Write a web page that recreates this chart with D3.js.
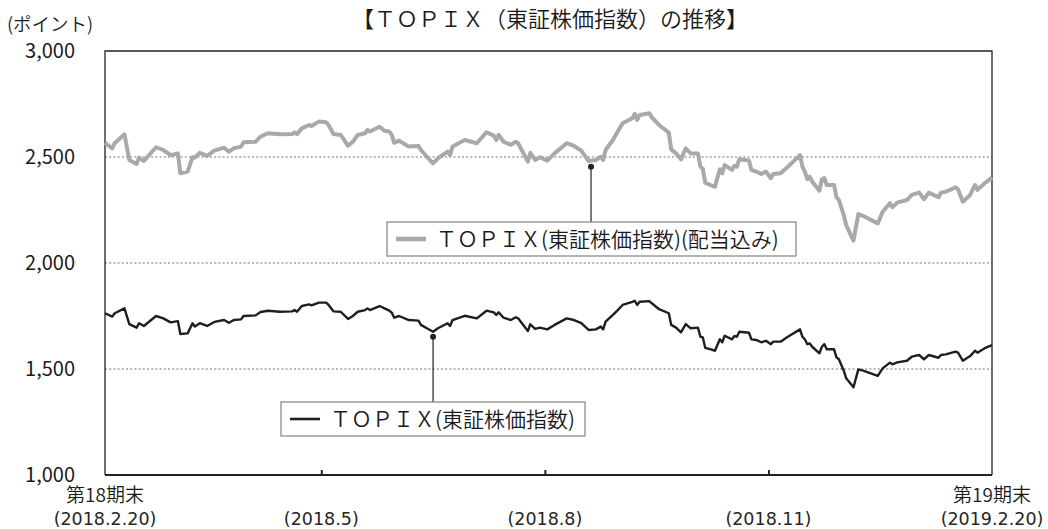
<!DOCTYPE html>
<html>
<head>
<meta charset="utf-8">
<script src="https://cdn.jsdelivr.net/npm/d3@7"></script>
<style>
  body { margin: 0; background: #fff; }
  text { font-family: "Noto Sans CJK JP", "Noto Sans", sans-serif; font-weight: 350; fill: #1a1a1a; }
  text.date { font-family: "DejaVu Sans", sans-serif; font-weight: 400; fill: #262626; }
</style>
</head>
<body>
<svg id="chart" width="1048" height="529"></svg>
<script>
// 日付（営業日を間引いて読み取り）
const dates = [
  "2018-02-20","2018-02-23","2018-02-24","2018-02-28","2018-03-02","2018-03-05","2018-03-06","2018-03-08","2018-03-13","2018-03-16",
  "2018-03-19","2018-03-22","2018-03-23","2018-03-26","2018-03-28","2018-03-29","2018-03-31","2018-04-03","2018-04-06","2018-04-10",
  "2018-04-12","2018-04-14","2018-04-17","2018-04-18","2018-04-23","2018-04-25","2018-04-28","2018-05-03","2018-05-08","2018-05-09",
  "2018-05-10","2018-05-12","2018-05-15","2018-05-16","2018-05-19","2018-05-22","2018-05-23","2018-05-25","2018-05-28","2018-05-31",
  "2018-06-02","2018-06-04","2018-06-07","2018-06-08","2018-06-09","2018-06-13","2018-06-15","2018-06-17","2018-06-18","2018-06-19",
  "2018-06-21","2018-06-25","2018-06-29","2018-06-30","2018-07-03","2018-07-05","2018-07-07","2018-07-11","2018-07-12","2018-07-13",
  "2018-07-18","2018-07-23","2018-07-27","2018-07-30","2018-07-31","2018-08-01","2018-08-03","2018-08-06","2018-08-08","2018-08-09",
  "2018-08-13","2018-08-14","2018-08-16","2018-08-18","2018-08-21","2018-08-24","2018-08-29","2018-09-01","2018-09-04","2018-09-07",
  "2018-09-10","2018-09-12","2018-09-13","2018-09-14","2018-09-17","2018-09-19","2018-09-21","2018-09-25","2018-09-26","2018-09-27",
  "2018-09-28","2018-10-02","2018-10-03","2018-10-06","2018-10-10","2018-10-11","2018-10-13","2018-10-15","2018-10-17","2018-10-19",
  "2018-10-22","2018-10-23","2018-10-24","2018-10-25","2018-10-28","2018-10-29","2018-10-31","2018-11-01","2018-11-02","2018-11-05",
  "2018-11-06","2018-11-07","2018-11-08","2018-11-12","2018-11-13","2018-11-15","2018-11-17","2018-11-19","2018-11-21","2018-11-22",
  "2018-11-25","2018-11-28","2018-12-03","2018-12-04","2018-12-05","2018-12-06","2018-12-07","2018-12-08","2018-12-11","2018-12-12",
  "2018-12-13","2018-12-14","2018-12-17","2018-12-18","2018-12-19","2018-12-21","2018-12-22","2018-12-25","2018-12-27","2018-12-29",
  "2019-01-04","2019-01-06","2019-01-09","2019-01-10","2019-01-12","2019-01-16","2019-01-18","2019-01-21","2019-01-23","2019-01-25",
  "2019-01-29","2019-01-30","2019-02-01","2019-02-05","2019-02-06","2019-02-08","2019-02-11","2019-02-13","2019-02-14","2019-02-17",
  "2019-02-20"
];

// TOPIX(東証株価指数)
const topix = [
  1763,1747,1763,1786,1712,1695,1716,1703,1750,1739,
  1720,1726,1665,1668,1716,1700,1716,1703,1722,1731,
  1718,1731,1734,1750,1753,1769,1775,1770,1772,1778,
  1770,1797,1805,1800,1813,1813,1802,1772,1770,1736,
  1750,1770,1778,1786,1778,1797,1786,1775,1766,1742,
  1750,1731,1728,1708,1689,1676,1692,1716,1703,1731,
  1751,1739,1775,1767,1755,1767,1742,1731,1744,1739,
  1679,1711,1689,1695,1687,1708,1739,1731,1716,1684,
  1687,1700,1687,1723,1755,1778,1802,1817,1822,1802,
  1817,1820,1810,1782,1763,1708,1695,1673,1712,1692,
  1695,1652,1649,1600,1590,1586,1640,1626,1657,1640,
  1656,1652,1676,1671,1640,1637,1626,1633,1617,1629,
  1629,1652,1687,1652,1640,1617,1621,1605,1574,1605,
  1617,1593,1593,1555,1546,1492,1456,1414,1498,1492,
  1468,1503,1530,1522,1531,1539,1558,1566,1546,1566,
  1553,1566,1569,1582,1577,1539,1561,1586,1577,1598,
  1613
];

// TOPIX(東証株価指数)(配当込み)
const topixDiv = [
  2567,2541,2565,2607,2486,2467,2497,2481,2546,2533,
  2509,2517,2423,2431,2499,2497,2520,2505,2530,2544,
  2525,2541,2549,2569,2572,2596,2612,2607,2608,2616,
  2608,2635,2651,2646,2667,2664,2651,2608,2604,2553,
  2572,2604,2612,2627,2620,2643,2624,2620,2604,2567,
  2577,2549,2552,2533,2494,2470,2494,2525,2509,2549,
  2580,2565,2617,2601,2580,2604,2572,2557,2572,2565,
  2478,2520,2486,2499,2483,2517,2565,2552,2530,2481,
  2486,2501,2486,2533,2580,2620,2659,2683,2703,2675,
  2698,2706,2687,2651,2615,2536,2517,2489,2541,2517,
  2517,2454,2445,2379,2363,2360,2442,2423,2462,2439,
  2458,2454,2489,2483,2439,2431,2420,2431,2400,2420,
  2423,2454,2509,2454,2431,2395,2407,2384,2341,2395,
  2400,2368,2368,2310,2297,2226,2179,2105,2231,2222,
  2187,2242,2282,2263,2285,2297,2321,2332,2301,2332,
  2310,2332,2336,2357,2348,2289,2321,2368,2345,2376,
  2403
];

const yTicks = [1000, 1500, 2000, 2500, 3000];
const gridValues = [1500, 2000, 2500];
const xTickDates = ["2018-02-20", "2018-05-20", "2018-08-20", "2018-11-20", "2019-02-20"];
const xTickTop = ["第18期末", "", "", "", "第19期末"];
const xTickBottom = ["(2018.2.20)", "(2018.5)", "(2018.8)", "(2018.11)", "(2019.2.20)"];

const seriesNames = ["ＴＯＰＩＸ(東証株価指数)(配当込み)", "ＴＯＰＩＸ(東証株価指数)"];
const calloutDates = ["2018-09-08", "2018-07-05"];

const parse = d3.timeParse("%Y-%m-%d");
const svg = d3.select("#chart");
const plotL = 105, plotR = 992, plotT = 51, plotB = 475;

const x = d3.scaleTime()
  .domain([parse("2018-02-20"), parse("2019-02-20")])
  .range([plotL, plotR]);
const y = d3.scaleLinear().domain([1000, 3000]).range([plotB, plotT]);

// title
svg.append("text")
  .attr("x", 550).attr("y", 27)
  .attr("text-anchor", "middle")
  .style("font-size", "22px")
  .text("【ＴＯＰＩＸ（東証株価指数）の推移】");

svg.append("text")
  .attr("x", 7).attr("y", 31)
  .style("font-size", "18.5px")
  .text("(ポイント)");

// dotted grid
svg.append("g").selectAll("line")
  .data(gridValues)
  .join("line")
  .attr("x1", plotL).attr("x2", plotR)
  .attr("y1", d => y(d)).attr("y2", d => y(d))
  .attr("stroke", "#b8b8b8")
  .attr("stroke-width", 2)
  .attr("stroke-dasharray", "2,2.2");

// y axis labels
const yAxis = svg.append("g")
  .attr("transform", `translate(${plotL},0)`)
  .call(d3.axisLeft(y).tickValues(yTicks).tickSize(0).tickPadding(30).tickFormat(d3.format(",")));
yAxis.select(".domain").remove();
yAxis.selectAll("text").style("font-size", "20px").style("font-weight", 400).attr("fill", "#1a1a1a");

// x ticks (inner)
const xAxis = svg.append("g")
  .attr("transform", `translate(0,${plotB})`)
  .call(d3.axisBottom(x).tickValues(xTickDates.slice(1, -1).map(parse)).tickSize(-5).tickFormat(""));
xAxis.select(".domain").remove();
xAxis.selectAll("line").attr("stroke", "#222").attr("stroke-width", 2);

// x labels
const xl = svg.append("g").selectAll("g")
  .data(xTickDates)
  .join("g")
  .attr("transform", d => `translate(${x(parse(d))},0)`);
xl.filter((d, i) => xTickTop[i] !== "")
  .append("text")
  .attr("y", 502).attr("text-anchor", "middle")
  .style("font-size", "19px")
  .text(d => xTickTop[xTickDates.indexOf(d)]);
xl.append("text")
  .attr("class", "date")
  .attr("y", 525).attr("text-anchor", "middle")
  .style("font-size", "17.5px")
  .text((d, i) => xTickBottom[i]);

// frame
svg.append("path")
  .attr("d", `M${plotL},${plotB}V${plotT}H${plotR}V${plotB}`)
  .attr("fill", "none").attr("stroke", "#222").attr("stroke-width", 1.3);
svg.append("line")
  .attr("x1", plotL).attr("x2", plotR).attr("y1", plotB).attr("y2", plotB)
  .attr("stroke", "#222").attr("stroke-width", 2);

// series
const rowsDiv = dates.map((d, i) => ({ date: parse(d), v: topixDiv[i] }));
const rows = dates.map((d, i) => ({ date: parse(d), v: topix[i] }));
const line = d3.line().x(d => x(d.date)).y(d => y(d.v));

svg.append("path").datum(rowsDiv)
  .attr("d", line)
  .attr("fill", "none").attr("stroke", "#a9a9ab")
  .attr("stroke-width", 4).attr("stroke-linejoin", "round");

svg.append("path").datum(rows)
  .attr("d", line)
  .attr("fill", "none").attr("stroke", "#1f1f1f")
  .attr("stroke-width", 2.4).attr("stroke-linejoin", "round");

// value at a date (linear between read points)
function valueAt(data, date) {
  const i = d3.bisector(d => d.date).left(data, date);
  if (i <= 0) return data[0].v;
  const a = data[i - 1], b = data[i];
  const t = (date - a.date) / (b.date - a.date);
  return a.v + (b.v - a.v) * t;
}

// legends with callouts
const legends = [
  { name: seriesNames[0], data: rowsDiv, date: calloutDates[0], color: "#a9a9ab", width: 4.5,
    box: [387, 222, 409, 34], offset: 6 },
  { name: seriesNames[1], data: rows, date: calloutDates[1], color: "#1f1f1f", width: 2.6,
    box: [281, 402, 304, 34], offset: 5 }
];

legends.forEach(lg => {
  const d = parse(lg.date);
  const cx = x(d), cy = y(valueAt(lg.data, d)) + lg.offset;
  const [bx, by, bw, bh] = lg.box;
  svg.append("line")
    .attr("x1", cx).attr("x2", cx).attr("y1", cy).attr("y2", by)
    .attr("stroke", "#222").attr("stroke-width", 1.2);
  svg.append("circle").attr("cx", cx).attr("cy", cy).attr("r", 3).attr("fill", "#222");
  svg.append("rect")
    .attr("x", bx).attr("y", by).attr("width", bw).attr("height", bh)
    .attr("fill", "#fff").attr("stroke", "#8c8c8c").attr("stroke-width", 1.3);
  svg.append("line")
    .attr("x1", bx + 9).attr("x2", bx + 39)
    .attr("y1", by + bh / 2).attr("y2", by + bh / 2)
    .attr("stroke", lg.color).attr("stroke-width", lg.width);
  svg.append("text")
    .attr("x", bx + 49).attr("y", by + bh / 2 + 7.5)
    .style("font-size", "21px")
    .text(lg.name);
});
</script>
</body>
</html>
